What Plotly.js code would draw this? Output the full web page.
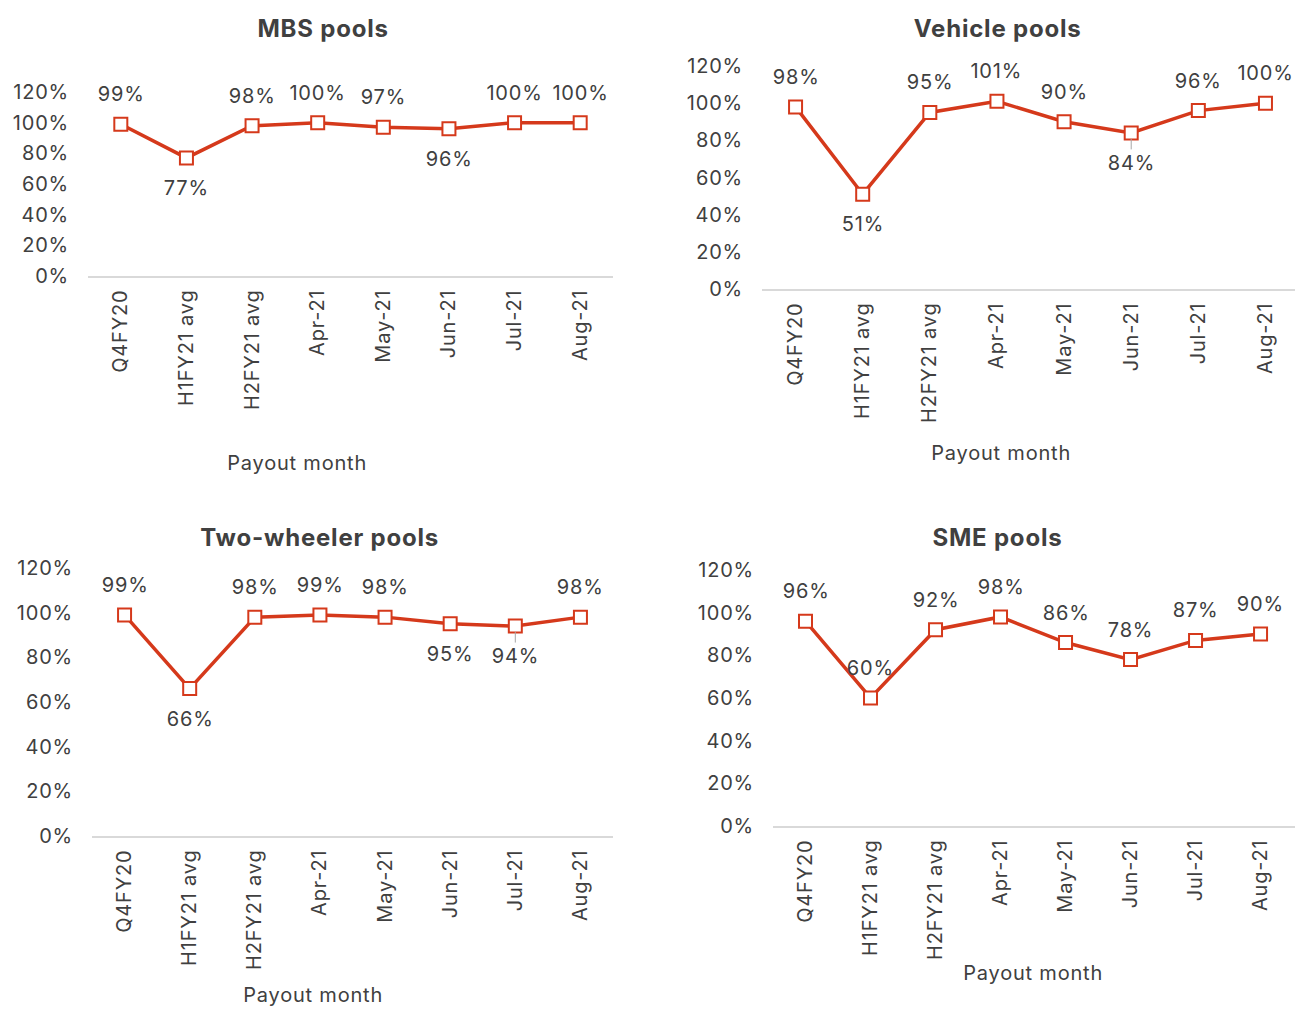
<!DOCTYPE html>
<html>
<head>
<meta charset="utf-8">
<script src="https://cdn.plot.ly/plotly-3.0.1.min.js"></script>
<style>
html,body{margin:0;padding:0;background:#fff;}
#chart{width:1295px;height:1009px;}
#chart svg text{letter-spacing:0.8px;}
</style>
</head>
<body>
<div id="chart"></div>
<script>
// ---- data ----
const categories = ["Q4FY20", "H1FY21 avg", "H2FY21 avg", "Apr-21", "May-21", "Jun-21", "Jul-21", "Aug-21"];
const panelTitles = ["MBS pools", "Vehicle pools", "Two-wheeler pools", "SME pools"];
const xAxisTitle = "Payout month";
const yTickValues = [0, 0.2, 0.4, 0.6, 0.8, 1.0, 1.2];

const mbsValues        = [99, 77, 98, 100, 97, 96, 100, 100];
const vehicleValues    = [98, 51, 95, 101, 90, 84, 96, 100];
const twoWheelerValues = [99, 66, 98, 99, 98, 95, 94, 98];
const smeValues        = [96, 60, 92, 98, 86, 78, 87, 90];

// label placement: 1 = above, -1 = below
const mbsLabelSide        = [1, -1, 1, 1, 1, -1, 1, 1];
const vehicleLabelSide    = [1, -1, 1, 1, 1, -1, 1, 1];
const twoWheelerLabelSide = [1, -1, 1, 1, 1, -1, -1, 1];
const smeLabelSide        = [1, 1, 1, 1, 1, 1, 1, 1];

// labels drawn with a leader line
const mbsLeader        = [0, 0, 0, 0, 0, 0, 0, 0];
const vehicleLeader    = [0, 0, 0, 0, 0, 1, 0, 0];
const twoWheelerLeader = [0, 0, 0, 0, 0, 0, 1, 0];
const smeLeader        = [0, 0, 0, 0, 0, 0, 0, 0];

// ---- styles / layout ----
const W = 1295, H = 1009;
const RED = "#D5391B";
const TXT = "#404040";
const FONT = "Inter, Roboto, sans-serif";
const FS = 20;

const panels = [
  {vals: mbsValues, side: mbsLabelSide, lead: mbsLeader, px: [88, 613], py: [276, 92], title: [323, 28], axt: [297, 463], xr: null},
  {vals: vehicleValues, side: vehicleLabelSide, lead: vehicleLeader, px: [762, 1295], py: [289, 66], title: [998, 28], axt: [1001, 453], xr: [-0.5, 7.44]},
  {vals: twoWheelerValues, side: twoWheelerLabelSide, lead: twoWheelerLeader, px: [92, 613], py: [836, 568], title: [319, 537], axt: [313, 995], xr: null},
  {vals: smeValues, side: smeLabelSide, lead: smeLeader, px: [773, 1295], py: [826, 570], title: [998, 537], axt: [1033, 973], xr: [-0.5, 7.53]}
];

const data = [];
const annotations = [];
const layout = {
  width: W, height: H,
  margin: {l: 0, r: 0, t: 0, b: 0},
  paper_bgcolor: "#ffffff", plot_bgcolor: "#ffffff",
  showlegend: false,
  font: {family: FONT, color: TXT, size: FS}
};

panels.forEach((p, i) => {
  const n = i === 0 ? "" : String(i + 1);
  const xa = "xaxis" + n, ya = "yaxis" + n;
  const xr = "x" + n, yr = "y" + n;
  data.push({
    type: "scatter", mode: "lines+markers",
    x: categories, y: p.vals.map(v => v / 100),
    xaxis: xr, yaxis: yr,
    line: {color: RED, width: 3.5},
    marker: {symbol: "square", size: 13, color: "#ffffff", line: {color: RED, width: 2}},
    cliponaxis: false, hoverinfo: "skip"
  });
  layout[xa] = {
    domain: [p.px[0] / W, p.px[1] / W],
    anchor: yr, type: "category",
    range: p.xr || [-0.5, 7.5],
    showline: true, linecolor: "#D9D9D9", linewidth: 1.5,
    showgrid: false, zeroline: false,
    ticks: "outside", ticklen: 4, tickcolor: "rgba(0,0,0,0)",
    tickangle: -90,
    tickfont: {family: FONT, size: FS, color: TXT},
    fixedrange: true
  };
  layout[ya] = {
    domain: [1 - p.py[0] / H, 1 - p.py[1] / H],
    anchor: xr, range: [0, 1.2],
    tickvals: yTickValues, tickformat: ".0%",
    showline: false, showgrid: false, zeroline: false,
    ticks: "outside", ticklen: 14, tickcolor: "rgba(0,0,0,0)",
    tickfont: {family: FONT, size: FS, color: TXT},
    fixedrange: true
  };
  p.vals.forEach((v, k) => {
    const a = {
      xref: xr, yref: yr, x: categories[k], y: v / 100,
      text: v + "%",
      font: {family: FONT, size: FS, color: TXT}
    };
    if (p.lead[k]) {
      Object.assign(a, {showarrow: true, ax: 0, ay: -30 * p.side[k], arrowhead: 0,
        arrowwidth: 1, arrowcolor: "#A6A6A6", standoff: 6});
    } else {
      Object.assign(a, {showarrow: false, yshift: 30 * p.side[k]});
    }
    annotations.push(a);
  });
  annotations.push({
    xref: "paper", yref: "paper", x: p.title[0] / W, y: 1 - p.title[1] / H,
    xanchor: "center", yanchor: "middle", showarrow: false,
    text: "<b>" + panelTitles[i] + "</b>",
    font: {family: FONT, size: 24, color: TXT}
  });
  annotations.push({
    xref: "paper", yref: "paper", x: p.axt[0] / W, y: 1 - p.axt[1] / H,
    xanchor: "center", yanchor: "middle", showarrow: false,
    text: xAxisTitle,
    font: {family: FONT, size: FS, color: TXT}
  });
});
layout.annotations = annotations;

Plotly.newPlot("chart", data, layout, {displayModeBar: false, staticPlot: true});
</script>
</body>
</html>
